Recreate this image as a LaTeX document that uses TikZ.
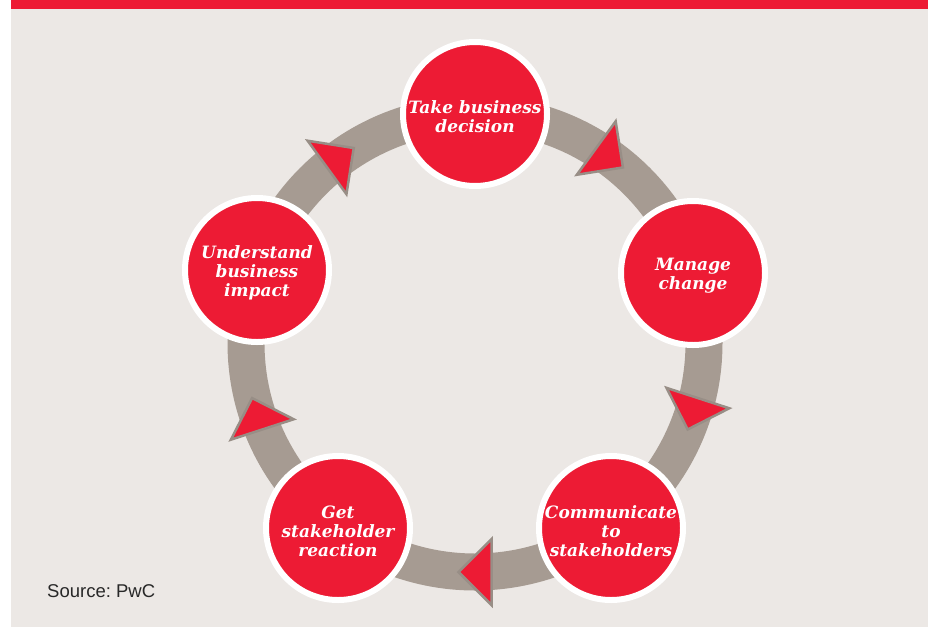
\documentclass[tikz,border=0pt]{standalone}
\usepackage{fontspec}
\setmainfont{DejaVu Serif}
\newfontfamily\srcfont{Liberation Sans}
\definecolor{pwcred}{RGB}{237,27,52}
\definecolor{bandgray}{RGB}{166,155,146}
\definecolor{bggray}{RGB}{236,232,229}
\definecolor{edgegray}{RGB}{152,142,134}
\definecolor{srctext}{RGB}{40,40,40}
\tikzset{
  stage/.style={circle, fill=pwcred, draw=white, line width=6pt, minimum size=144pt,
    inner sep=0pt},
  stagetext/.style={inner sep=0pt, text=white, align=center,
    font=\bfseries\itshape\fontsize{17}{19}\selectfont},
  arrowtri/.style={fill=pwcred, draw=edgegray, line width=2.5pt, line join=miter},
  ring/.style={draw=bandgray, line width=37pt}
}
\begin{document}
\begin{tikzpicture}[x=1pt,y=-1pt]
\useasboundingbox (0,0) rectangle (928,627);
\fill[white] (0,0) rectangle (928,627);
\fill[bggray] (11,9) rectangle (928,627);
\fill[pwcred] (11,0) rectangle (928,9);
\coordinate (c) at (475,343);
\draw[ring] (c) circle[radius=229];
\node[stage] (n1) at (475,114) {};
\node[stage] (n2) at (693,273) {};
\node[stage] (n3) at (611,528) {};
\node[stage] (n4) at (338,528) {};
\node[stage] (n5) at (257,270) {};
\node[stagetext] (t1) at ([yshift=-3pt]n1.center) {Take business\\decision};
\node[stagetext] (t2) at ([yshift=-3pt]n2.center) {Manage\\change};
\node[stagetext] (t3) at ([yshift=-3pt]n3.center) {Communicate\\to\\stakeholders};
\node[stagetext] (t4) at ([yshift=-3pt]n4.center) {Get\\stakeholder\\reaction};
\node[stagetext] (t5) at ([yshift=-3pt]n5.center) {Understand\\business\\impact};
\foreach \a in {54,-18,-90,-162,126} {
  \draw[arrowtri]
    ({475+229*cos(\a)+16.5*sin(\a)},{343-229*sin(\a)+16.5*cos(\a)})
    -- ({475+229*cos(\a)-16.5*sin(\a)+33*cos(\a)},{343-229*sin(\a)-16.5*cos(\a)-33*sin(\a)})
    -- ({475+229*cos(\a)-16.5*sin(\a)-33*cos(\a)},{343-229*sin(\a)-16.5*cos(\a)+33*sin(\a)})
    -- cycle;
}
\node[anchor=west, inner sep=0pt, text=srctext, font=\srcfont\fontsize{18.5}{22}\selectfont] (src) at (47,591) {Source:\ PwC};
\end{tikzpicture}
\end{document}
